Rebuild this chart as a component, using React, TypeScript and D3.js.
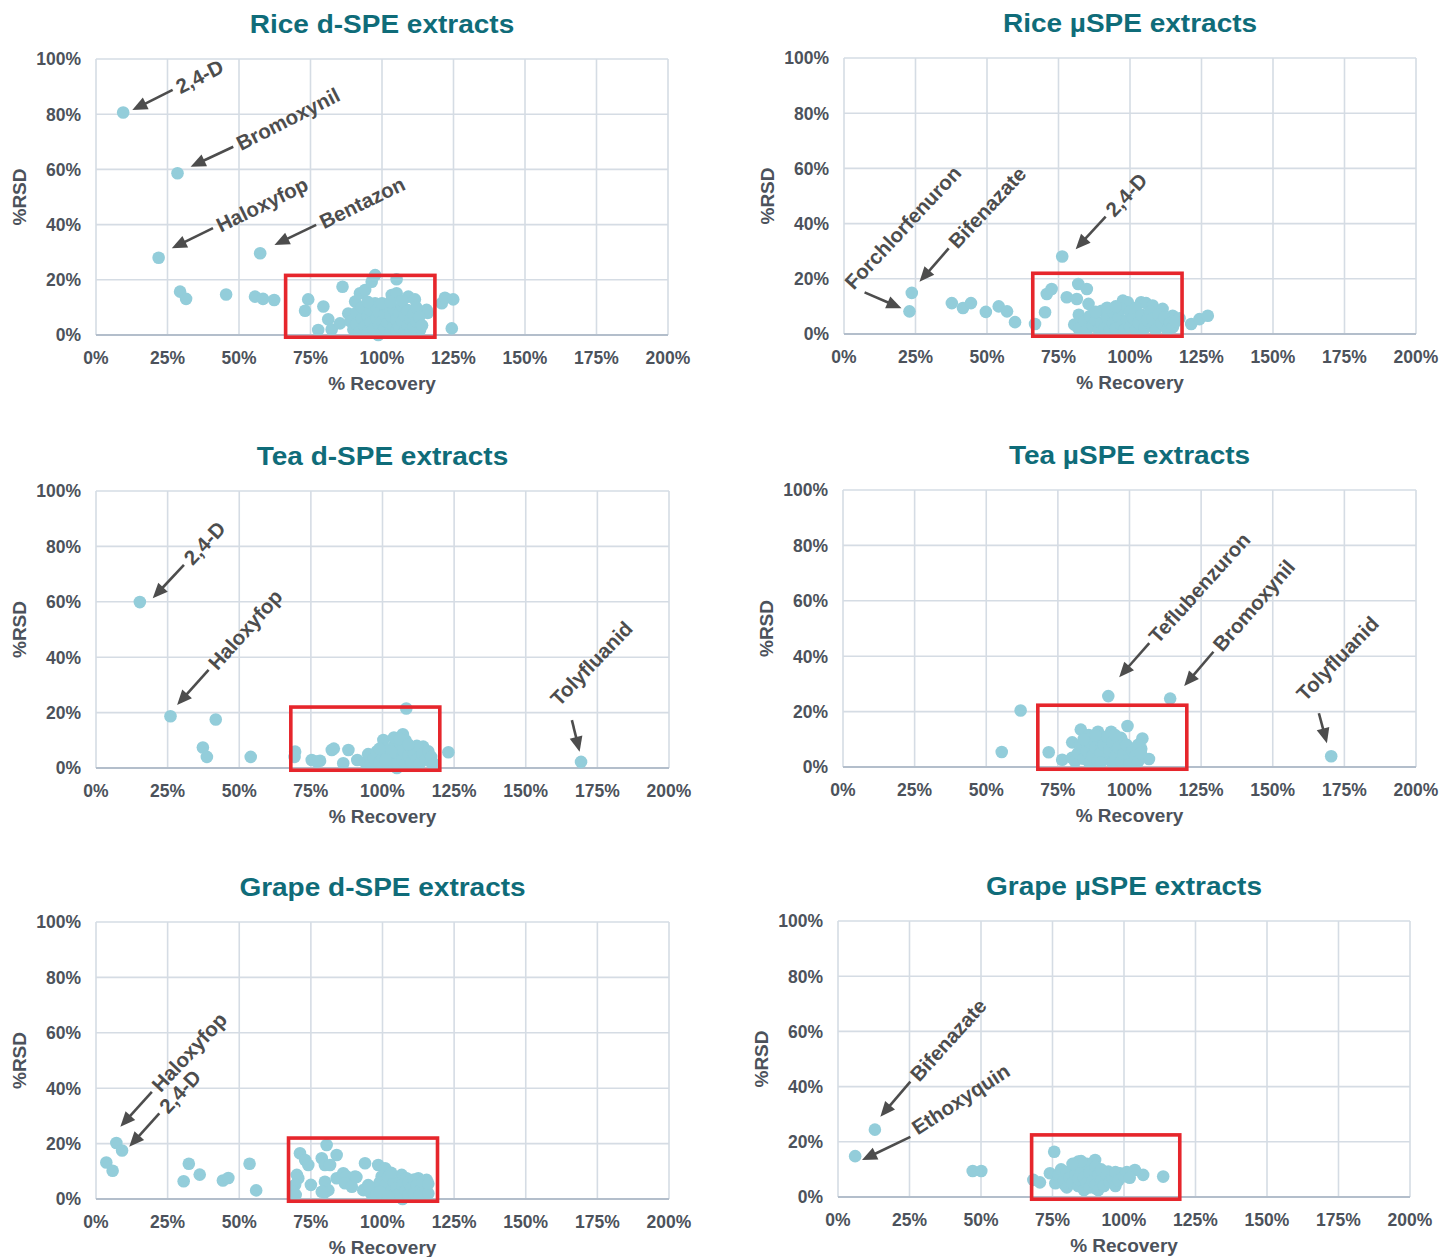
import React from "react";
import * as d3 from "d3";

type Pt = [number, number]; // [% recovery, % RSD]

// ---------- Data: one [recovery, RSD] pair per analyte ----------
const riceDspe: Pt[] = [
  [9.5, 80.6], [28.5, 58.6], [21.9, 28.0], [57.4, 29.6],
  [29.4, 15.7], [31.5, 13.1], [45.5, 14.7], [55.6, 13.9], [58.4, 13.1], [62.3, 12.7],
  [74.2, 12.9], [73.1, 8.8], [79.5, 10.3], [81.2, 5.7], [77.7, 1.8], [82.4, 2.0], [86.2, 17.5],
  [85.3, 4.2], [88.2, 7.8], [90.6, 12.1], [92.3, 15.1], [94.1, 16.3], [96.4, 19.3], [97.6, 21.7],
  [105.1, 20.2], [103.4, 14.5], [105.1, 15.1], [109.2, 13.9], [111.5, 12.9], [97.6, 11.5],
  [115.6, 9.1], [116.0, 8.0], [113.3, 1.8], [120.9, 11.5], [122.0, 13.5], [124.9, 12.9],
  [124.4, 2.4], [98.7, 0.0],
  [89, 5], [90, 2], [91, 8], [91, 4], [92, 1], [93, 6], [93, 10], [94, 3], [95, 7], [95, 1],
  [96, 4.5], [96, 9], [97, 2], [98, 6], [98, 10], [99, 3.5], [99, 8], [100, 1], [100, 5],
  [101, 7.5], [101, 2.5], [102, 10], [102, 4.5], [103, 1], [103, 7], [104, 3], [104, 9.5],
  [105, 5.5], [105, 1.5], [106, 8], [106, 3], [107, 10.5], [107, 5], [108, 1.5], [108, 7],
  [109, 3.5], [109, 9], [110, 5.5], [110, 1], [111, 7.5], [111, 3], [112, 5], [112, 10],
  [113, 6.5], [114, 3.5], [100, 11.5], [95, 12], [103, 12], [107, 12.5],
];

const riceUspe: Pt[] = [
  [22.9, 8.2], [23.7, 14.9], [76.3, 28.1], [37.7, 11.2], [41.6, 9.4], [44.4, 11.2], [49.6, 8.0],
  [54.1, 10.0], [57.0, 8.2], [59.8, 4.3], [66.8, 3.6], [70.3, 7.9], [70.9, 14.5], [72.6, 16.3],
  [77.9, 13.3], [81.9, 18.1], [84.9, 16.3], [81.4, 12.7], [85.5, 10.9], [82.1, 7.0], [80.5, 3.4],
  [90.1, 8.4], [97.5, 12.1], [99.2, 11.5], [103.9, 11.5], [105.6, 11.2], [107.9, 10.3],
  [111.4, 9.1], [114.9, 6.6], [117.3, 5.7], [112.7, 2.8], [121.4, 3.6], [124.3, 5.4], [127.2, 6.6],
  [82, 2], [84, 4.5], [85, 1.5], [86, 6.5], [87, 3], [88, 5], [89, 1.5], [90, 4], [91, 2],
  [92, 6], [93, 1.5], [94, 8], [94, 4], [95, 2], [96, 6], [97, 9], [97, 3], [98, 1.5], [99, 5],
  [100, 8], [100, 2.5], [101, 6], [102, 1.5], [102, 9.5], [103, 4], [104, 7], [105, 2], [106, 5],
  [107, 8], [108, 2.5], [108, 5.5], [109, 1.5], [110, 7], [111, 4], [112, 6], [113, 1.5],
  [114, 4], [115, 2.5], [116, 4.5], [92, 9.5], [88, 8], [95, 10],
];

const teaDspe: Pt[] = [
  [15.3, 59.9], [26.0, 18.7], [41.8, 17.5], [37.3, 7.4], [38.7, 4.0], [54.0, 4.0], [169.3, 2.2],
  [108.3, 21.5], [69.5, 5.9], [69.3, 4.0], [75.3, 2.9], [78.2, 2.6], [77.0, 2.3], [82.3, 6.5],
  [83.0, 7.0], [88.1, 6.5], [86.3, 1.7], [91.2, 2.9], [95.6, 4.7], [100.3, 10.1], [107.1, 12.2],
  [114.2, 7.7], [123.0, 5.7], [105.0, 0.0],
  [94, 2], [95, 5], [96, 1.5], [97, 3.5], [98, 6], [99, 2], [100, 4], [101, 7], [102, 1.5],
  [102, 5], [103, 3], [104, 8], [105, 2], [105, 5.5], [106, 9], [107, 3], [107, 6.5], [108, 1.5],
  [108, 10], [109, 4.5], [110, 7], [110, 2], [111, 5], [112, 8], [112, 3], [113, 1.5], [114, 5],
  [115, 3], [116, 6], [117, 2], [117, 4], [118, 1.5], [104, 11], [106, 10.5], [103, 6], [99, 7],
  [101, 3], [109, 8.5],
];

const teaUspe: Pt[] = [
  [92.6, 25.6], [114.2, 24.7], [170.4, 3.9], [62.0, 20.4], [55.4, 5.4], [71.8, 5.3], [76.5, 2.6],
  [79.9, 3.3], [80.0, 8.9], [83.0, 13.5], [85.8, 11.5], [89.0, 12.7], [93.6, 12.7], [99.3, 14.8],
  [104.5, 10.3], [104.1, 6.6], [106.8, 2.9], [97.3, 9.6],
  [81, 2], [82, 5], [83, 8], [84, 3], [85, 6], [86, 1.5], [86, 9], [87, 4], [88, 7], [89, 2],
  [89, 10], [90, 5], [91, 8], [92, 3], [92, 11], [93, 6], [94, 1.5], [94, 9], [95, 4], [96, 7],
  [97, 2], [97, 10.5], [98, 5], [99, 8], [100, 3], [100, 1], [101, 6], [102, 4], [103, 2],
  [103, 8], [104, 5], [90, 1.5], [84, 10], [88, 11.5], [95, 11.5],
];

const grapeDspe: Pt[] = [
  [7.1, 20.2], [9.1, 17.5], [3.6, 13.2], [5.8, 10.2], [32.4, 12.7], [30.6, 6.4], [36.2, 8.8],
  [44.3, 6.7], [46.2, 7.6], [53.6, 12.7], [55.9, 3.1],
  [80.5, 19.5], [71.2, 16.5], [73.0, 14.1], [74.1, 12.3], [78.8, 14.7], [84.0, 15.9], [79.9, 12.3],
  [81.7, 12.3], [70.1, 8.7], [70.6, 7.5], [69.5, 5.1], [68.9, 2.6], [69.7, 1.5], [75.0, 5.1],
  [79.9, 6.2], [81.1, 3.2], [79.9, 2.4], [84.0, 7.5], [86.3, 9.3], [87.5, 8.1], [90.4, 8.1],
  [86.9, 5.7], [89.3, 4.4], [93.3, 3.2], [78.8, 2.6], [93.9, 12.9], [98.5, 12.3], [100.9, 11.1],
  [99.7, 8.1], [106.7, 8.7], [115.4, 6.9], [112.5, 7.5], [108.4, 7.5], [90.9, 7.9], [107.0, 0.0],
  [96, 2], [97, 4], [98, 1.5], [99, 6], [100, 3], [101, 1.5], [101, 5], [102, 8], [103, 3],
  [104, 6], [104, 1.5], [105, 4], [106, 2], [107, 5], [108, 3], [109, 1.5], [109, 6], [110, 4],
  [111, 2], [111, 7], [112, 5], [113, 3], [113, 1.5], [114, 6], [115, 4], [116, 2], [116, 5.5],
  [103, 9.5], [99, 2.5], [95, 5], [102, 1],
];

const grapeUspe: Pt[] = [
  [12.9, 24.4], [6.0, 14.8], [47.1, 9.4], [50.1, 9.4], [75.6, 16.4], [68.3, 6.2], [70.6, 5.3],
  [113.7, 7.4], [106.7, 8.0], [103.8, 9.8], [98.6, 8.6], [94.5, 9.2], [89.9, 13.4], [84.0, 12.8],
  [74.1, 8.6], [77.0, 6.8], [79.4, 4.3], [85.8, 3.2], [89.9, 3.2],
  [76, 5], [77, 8], [78, 10], [79, 6], [80, 3.5], [80, 9], [81, 7], [82, 5], [83, 11], [83, 8],
  [84, 4], [84, 6.5], [85, 10], [86, 7], [86, 2.5], [87, 5], [87, 12], [88, 9], [88, 3.5],
  [89, 6], [90, 11], [90, 4.5], [91, 8], [91, 2.5], [92, 10], [92, 6], [93, 4], [94, 8],
  [95, 5.5], [96, 7], [97, 9], [97, 4], [98, 6], [100, 7.5], [101, 9], [102, 7], [85, 13], [82, 12],
];

// Axis ticks (percent)
const recoveryTicks = [0, 25, 50, 75, 100, 125, 150, 175, 200];
const rsdTicks = [0, 20, 40, 60, 80, 100];

// Acceptance window per panel: [recovery from, recovery to, RSD top]
const riceDspeWindow = [66.3, 118.5, 21.6];
const riceUspeWindow = [66.0, 118.2, 22.0];
const teaDspeWindow = [68.0, 120.0, 22.0];
const teaUspeWindow = [68.0, 120.0, 22.3];
const grapeDspeWindow = [67.2, 119.2, 22.0];
const grapeUspeWindow = [67.7, 119.5, 22.5];

// Outlier call-outs: arrow tip/tail in data units, label angle in degrees
interface Note { text: string; tip: Pt; tail: Pt; angle: number; at?: Pt }

const riceDspeNotes: Note[] = [
  { text: "2,4-D", tip: [12.7, 81.5], tail: [26.8, 88.8], angle: -27 },
  { text: "Bromoxynil", tip: [33.1, 61.0], tail: [48.0, 68.2], angle: -27 },
  { text: "Haloxyfop", tip: [26.5, 31.4], tail: [40.9, 38.7], angle: -26 },
  { text: "Bentazon", tip: [62.4, 32.6], tail: [77.0, 39.9], angle: -26 },
];
const riceUspeNotes: Note[] = [
  { text: "Forchlorfenuron", tip: [20.1, 9.3], tail: [7.2, 15.1], angle: -47, at: [1.5, 17.5] },
  { text: "Bifenazate", tip: [26.4, 18.9], tail: [36.6, 31.0], angle: -47 },
  { text: "2,4-D", tip: [81.0, 30.7], tail: [91.5, 42.5], angle: -47 },
];
const teaDspeNotes: Note[] = [
  { text: "2,4-D", tip: [19.8, 61.3], tail: [30.7, 73.3], angle: -47 },
  { text: "Haloxyfop", tip: [28.3, 22.7], tail: [39.3, 35.4], angle: -48 },
  { text: "Tolyfluanid", tip: [168.8, 5.9], tail: [166.1, 17.3], angle: -46, at: [159.8, 23.8] },
];
const teaUspeNotes: Note[] = [
  { text: "Teflubenzuron", tip: [96.4, 32.4], tail: [106.9, 44.7], angle: -48 },
  { text: "Bromoxynil", tip: [119.1, 29.2], tail: [129.3, 41.6], angle: -49 },
  { text: "Tolyfluanid", tip: [168.9, 8.6], tail: [166.1, 19.4], angle: -46, at: [159.5, 25.2] },
];
const grapeDspeNotes: Note[] = [
  { text: "Haloxyfop", tip: [8.5, 26.1], tail: [19.5, 38.7], angle: -47 },
  { text: "2,4-D", tip: [11.6, 18.9], tail: [22.1, 30.9], angle: -47 },
];
const grapeUspeNotes: Note[] = [
  { text: "Bifenazate", tip: [14.8, 29.1], tail: [25.3, 41.8], angle: -48 },
  { text: "Ethoxyquin", tip: [8.4, 13.4], tail: [25.3, 21.8], angle: -33, at: [26.5, 24.5] },
];

// ---------- Layout ----------
interface PanelSpec {
  title: string;
  points: Pt[];
  notes: Note[];
  box: number[];
  left: number;
  top: number;
  width: number;
  height: number;
}

const panels: PanelSpec[] = [
  { title: "Rice d-SPE extracts", points: riceDspe, notes: riceDspeNotes, box: riceDspeWindow, left: 96, top: 59, width: 572, height: 276 },
  { title: "Rice \u00b5SPE extracts", points: riceUspe, notes: riceUspeNotes, box: riceUspeWindow, left: 844, top: 58, width: 572, height: 276 },
  { title: "Tea d-SPE extracts", points: teaDspe, notes: teaDspeNotes, box: teaDspeWindow, left: 96, top: 491, width: 573, height: 277 },
  { title: "Tea \u00b5SPE extracts", points: teaUspe, notes: teaUspeNotes, box: teaUspeWindow, left: 843, top: 490, width: 573, height: 277 },
  { title: "Grape d-SPE extracts", points: grapeDspe, notes: grapeDspeNotes, box: grapeDspeWindow, left: 96, top: 922, width: 573, height: 277 },
  { title: "Grape \u00b5SPE extracts", points: grapeUspe, notes: grapeUspeNotes, box: grapeUspeWindow, left: 838, top: 921, width: 572, height: 276 },
];

const FONT = "'Liberation Sans', Arial, Helvetica, sans-serif";
const TEAL = "#0f6c79";
const LABEL = "#4c525b";
const GRID = "#d5dce4";
const AXIS = "#b3becb";
const DOT = "#93cdda";
const BOX = "#e6262c";
const NOTE = "#4d4d4d";

function Callout({ note, x, y }: { note: Note; x: d3.ScaleLinear<number, number>; y: d3.ScaleLinear<number, number> }) {
  const tx = x(note.tip[0]);
  const ty = y(note.tip[1]);
  const sx = x(note.tail[0]);
  const sy = y(note.tail[1]);
  const len = Math.hypot(sx - tx, sy - ty);
  const ux = (sx - tx) / len;
  const uy = (sy - ty) / len;
  const headLen = 15;
  const headHalf = 6.5;
  const bx = tx + ux * headLen;
  const by = ty + uy * headLen;
  const px = -uy;
  const py = ux;
  const head = `M${tx},${ty}L${bx + px * headHalf},${by + py * headHalf}L${bx - px * headHalf},${by - py * headHalf}Z`;
  const rad = (note.angle * Math.PI) / 180;
  const lx = note.at ? x(note.at[0]) : sx + Math.cos(rad) * 5;
  const ly = note.at ? y(note.at[1]) : sy + Math.sin(rad) * 5;
  return (
    <g>
      <line x1={sx} y1={sy} x2={bx - ux} y2={by - uy} stroke={NOTE} strokeWidth={2.6} />
      <path d={head} fill={NOTE} />
      <text
        transform={`translate(${lx},${ly}) rotate(${note.angle})`}
        dy="0.36em"
        fontFamily={FONT}
        fontWeight="bold"
        fontSize={20.5}
        fill={NOTE}
      >
        {note.text}
      </text>
    </g>
  );
}

function Panel({ spec }: { spec: PanelSpec }) {
  const x = d3.scaleLinear().domain([0, 200]).range([spec.left, spec.left + spec.width]);
  const y = d3.scaleLinear().domain([0, 100]).range([spec.top + spec.height, spec.top]);
  const fmt = (v: number) => `${v}%`;
  const cx = spec.left + spec.width / 2;
  const cy = spec.top + spec.height / 2;
  const [b0, b1, bTop] = spec.box;
  return (
    <g>
      <text
        transform={`translate(${cx},${spec.top - 35}) scale(1.12,1)`}
        textAnchor="middle"
        dy="0.36em"
        fontFamily={FONT}
        fontWeight="bold"
        fontSize={25}
        fill={TEAL}
      >
        {spec.title}
      </text>

      {recoveryTicks.map((t) => (
        <line key={`vx${t}`} x1={x(t)} x2={x(t)} y1={y(100)} y2={y(0)} stroke={GRID} strokeWidth={1.6} />
      ))}
      {rsdTicks.map((t) => (
        <line key={`hy${t}`} x1={x(0)} x2={x(200)} y1={y(t)} y2={y(t)} stroke={t === 0 ? AXIS : GRID} strokeWidth={t === 0 ? 2.2 : 1.6} />
      ))}

      {recoveryTicks.map((t) => (
        <text key={`tx${t}`} x={x(t)} y={y(0) + 28.5} textAnchor="middle" fontFamily={FONT} fontWeight="bold" fontSize={17.5} fill={LABEL}>
          {fmt(t)}
        </text>
      ))}
      {rsdTicks.map((t) => (
        <text key={`ty${t}`} x={x(0) - 15} y={y(t)} dy="0.36em" textAnchor="end" fontFamily={FONT} fontWeight="bold" fontSize={17.5} fill={LABEL}>
          {fmt(t)}
        </text>
      ))}

      <text x={cx} y={y(0) + 55} textAnchor="middle" fontFamily={FONT} fontWeight="bold" fontSize={19} fill={LABEL}>
        % Recovery
      </text>
      <text
        transform={`translate(${spec.left - 77},${cy}) rotate(-90)`}
        textAnchor="middle"
        dy="0.36em"
        fontFamily={FONT}
        fontWeight="bold"
        fontSize={19}
        fill={LABEL}
      >
        %RSD
      </text>

      {spec.points.map((p, i) => (
        <circle key={`p${i}`} cx={x(p[0])} cy={y(p[1])} r={6.3} fill={DOT} />
      ))}

      <rect
        x={x(b0)}
        y={y(bTop)}
        width={x(b1) - x(b0)}
        height={y(-0.8) - y(bTop)}
        fill="none"
        stroke={BOX}
        strokeWidth={3.6}
      />

      {spec.notes.map((n, i) => (
        <Callout key={`n${i}`} note={n} x={x} y={y} />
      ))}
    </g>
  );
}

export default function App() {
  return (
    <svg
      width={1440}
      height={1257}
      viewBox="0 0 1440 1257"
      style={{ position: "absolute", left: 0, top: 0, background: "#ffffff" }}
    >
      <rect x={0} y={0} width={1440} height={1257} fill="#ffffff" />
      {panels.map((p) => (
        <Panel key={p.title} spec={p} />
      ))}
    </svg>
  );
}
